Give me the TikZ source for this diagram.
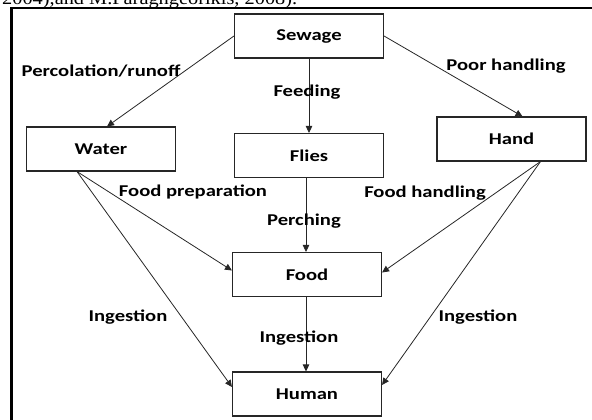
\documentclass[tikz,border=0pt]{standalone}
\usepackage{fontspec}
\usetikzlibrary{arrows.meta}
\newfontfamily\lblfont[FakeStretch=1.25]{Carlito}
\newfontfamily\refsfont[FakeStretch=1.1]{Liberation Serif}
\tikzset{
  stage/.style={draw=black!85, line width=1.1pt, minimum width=149pt,
    minimum height=44pt, inner sep=0pt, font=\lblfont\bfseries\fontsize{16.5}{18}\selectfont},
  route/.style={font=\lblfont\bfseries\fontsize{16.5}{18}\selectfont, inner sep=0pt},
  flow/.style={draw=black!85, line width=0.8pt, -{Triangle[length=7pt,width=6.5pt]}}
}
\begin{document}
\begin{tikzpicture}[x=1pt, y=-1pt]
    \clip (0,0) rectangle (592,420);

    % cut-off line of the text above
    \node[anchor=base west, inner sep=0pt, font=\refsfont\fontsize{18.5}{20}\selectfont]
        (cite) at (2,4.5) {2004),and M.Paraghgeorikis, 2008).};

    % frame
    \draw[line width=2.7pt] (11.5,430) -- (11.5,8) -- (600,8);

    % stages
    \node[stage] (sewage) at (309,36) {Sewage};
    \node[stage] (water) at (101,149) {Water};
    \node[stage] (flies) at (309,155.5) {Flies};
    \node[stage] (hand) at (511.5,139) {Hand};
    \node[stage] (food) at (307,274.5) {Food};
    \node[stage] (human) at (307,394) {Human};

    % routes
    \draw[flow] (sewage.west) -- ([xshift=6pt]water.north);
    \draw[flow] (sewage.east) -- ([xshift=11pt]hand.north);
    \draw[flow] (sewage.south) -- (flies.north);
    \draw[flow] ([xshift=-1pt]food.north |- flies.south) -- ([xshift=-1pt]food.north);
    \draw[flow] ([xshift=-1pt]food.south) -- ([xshift=-1pt]human.north);
    \draw[flow] ([xshift=-24pt]water.south) -- ([yshift=4pt]food.west);
    \draw[flow] ([xshift=-24pt]water.south) -- ([yshift=7pt]human.west);
    \draw[flow] ([xshift=29pt]hand.south) -- ([yshift=2pt]food.east);
    \draw[flow] ([xshift=29pt]hand.south) -- ([yshift=9pt]human.east);

    % labels
    \node[route] (lperc) at (101,71) {Percolation/runoff};
    \node[route] (lfeed) at (307,92) {Feeding};
    \node[route] (lpoor) at (506,66) {Poor handling};
    \node[route] (lprep) at (193,192) {Food preparation};
    \node[route] (lhandl) at (425,193) {Food handling};
    \node[route] (lperch) at (304,221) {Perching};
    \node[route] (lingl) at (128,317) {Ingestion};
    \node[route] (lingm) at (299,338) {Ingestion};
    \node[route] (lingr) at (478,317) {Ingestion};
\end{tikzpicture}
\end{document}
